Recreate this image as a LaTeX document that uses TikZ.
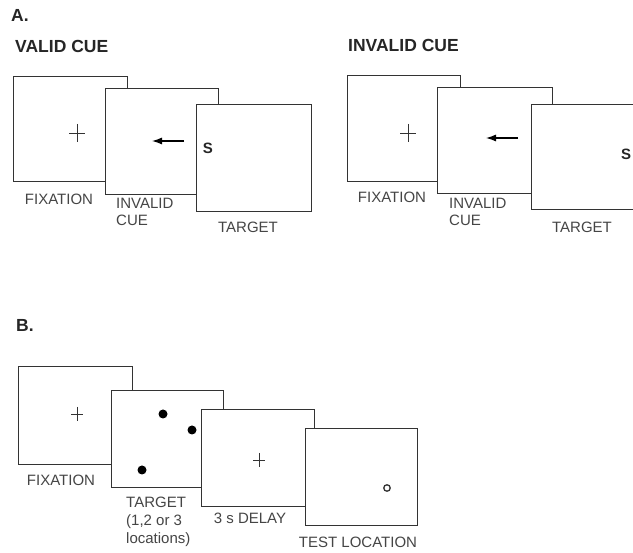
\documentclass[tikz,border=0pt]{standalone}
\usepackage{fontspec}
\setmainfont{Liberation Sans}
\usetikzlibrary{arrows.meta}
\definecolor{ln}{HTML}{333333}
\definecolor{lab}{HTML}{454545}
\tikzset{
  screen/.style={draw=ln, line width=1.3pt, fill=white, inner sep=0pt, anchor=north west},
  lbl/.style={text=lab, font=\fontsize{15}{17}\selectfont, inner sep=0pt, align=left},
  head/.style={text=black!85, font=\bfseries\fontsize{17.5}{19}\selectfont, inner sep=0pt, anchor=west},
  crossline/.style={draw=ln, line width=0.9pt},
  dotm/.style={circle, fill=black, inner sep=0pt, minimum size=9pt},
}
\newcommand{\plusmark}[3]{% x y halfsize
  \draw[crossline] (#1-#3,#2) -- (#1+#3,#2);
  \draw[crossline] (#1,#2-#3-1) -- (#1,#2+#3+1);
}
\begin{document}
\begin{tikzpicture}[x=1pt,y=-1pt]
\clip (0,0) rectangle (633,553);
\fill[white] (0,0) rectangle (633,553);

% ---------- A ----------
\node[head] (hA) at (11,15) {A.};
\node[head] (hvalid) at (15,46) {VALID CUE};
\node[head] (hinvalid) at (348,45) {INVALID CUE};

% valid cue
\node[screen, minimum width=114pt, minimum height=105pt] (v1) at (13,76) {};
\plusmark{77}{133}{8}
\node[screen, minimum width=113pt, minimum height=106pt] (v2) at (105,88) {};
\node[screen, minimum width=115pt, minimum height=107pt] (v3) at (196,104) {};
\coordinate (va1) at (184,141);
\coordinate (va2) at (152,141);
\draw[draw=black, line width=1.2pt, -{Latex[length=10pt,width=7pt]}] (va1) -- (va2);
\node[font=\bfseries\fontsize{15}{16}\selectfont, inner sep=0pt, text=black!85] (vs) at (208,148) {S};
\node[lbl] (vl1) at (59,199) {FIXATION};
\node[lbl, anchor=west] (vl2) at (116,211.5) {INVALID\\CUE};
\node[lbl] (vl3) at (248,227) {TARGET};

% invalid cue
\node[screen, minimum width=113pt, minimum height=106pt] (i1) at (347,75) {};
\plusmark{408}{133}{8}
\node[screen, minimum width=115pt, minimum height=106pt] (i2) at (437,87) {};
\node[screen, minimum width=120pt, minimum height=105pt] (i3) at (531,104) {};
\coordinate (ia1) at (518,138);
\coordinate (ia2) at (486,138);
\draw[draw=black, line width=1.2pt, -{Latex[length=10pt,width=7pt]}] (ia1) -- (ia2);
\node[font=\bfseries\fontsize{15}{16}\selectfont, inner sep=0pt, text=black!85] (is) at (626,154) {S};
\node[lbl] (il1) at (392,197) {FIXATION};
\node[lbl, anchor=west] (il2) at (449,211.5) {INVALID\\CUE};
\node[lbl] (il3) at (582,227) {TARGET};

% ---------- B ----------
\node[head] (hB) at (16,325) {B.};
\node[screen, minimum width=114pt, minimum height=98pt] (b1) at (18,366) {};
\plusmark{77}{414}{6}
\node[screen, minimum width=112pt, minimum height=97pt] (b2) at (111,390) {};
\node[dotm] (d1) at (163,414) {};
\node[dotm] (d2) at (192,430) {};
\node[dotm] (d3) at (142,470) {};
\node[screen, minimum width=113pt, minimum height=97pt] (b3) at (201,409) {};
\plusmark{259}{460}{6}
\node[screen, minimum width=112pt, minimum height=97pt] (b4) at (305,428) {};
\node[circle, draw=ln, line width=1.3pt, inner sep=0pt, minimum size=6.5pt] (tc) at (387,488) {};
\node[lbl] (bl1) at (61,480) {FIXATION};
\node[lbl, anchor=west, font=\fontsize{15}{18}\selectfont] (bl2) at (126,521.5) {TARGET\\(1,2 or 3\\locations)};
\node[lbl] (bl3) at (250,518) {3 s DELAY};
\node[lbl] (bl4) at (358,542) {TEST LOCATION};
\end{tikzpicture}
\end{document}
